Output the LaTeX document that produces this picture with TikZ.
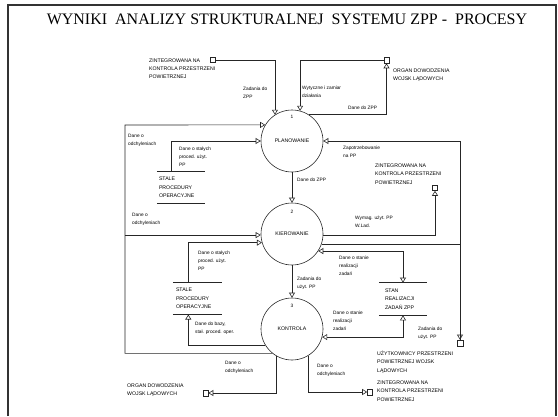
\documentclass[tikz,border=0pt]{standalone}
\usepackage{fontspec}
\setmainfont{Liberation Sans}
\newfontfamily\titlefont{Liberation Serif}
\usetikzlibrary{arrows.meta,calc}

\newcommand{\lblfont}{\fontsize{4.8}{8}\selectfont}
\newcommand{\entfont}{\fontsize{5.2}{8.3}\selectfont}
\newcommand{\procfont}{\fontsize{5.2}{6}\selectfont}

\tikzset{
  flow/.style={draw=black!85, line width=0.6pt},
  arr/.style={-{Triangle[open,length=5pt,width=6pt]}},
  arrboth/.style={{Triangle[open,length=5pt,width=6pt]}-{Triangle[open,length=5pt,width=6pt]}},
  proc/.style={circle, draw=black!85, line width=0.6pt, minimum size=62pt, inner sep=0pt, font=\procfont},
  lbl/.style={font=\lblfont, align=left, anchor=west, inner sep=0pt},
  ent/.style={font=\entfont, align=left, anchor=west, inner sep=0pt},
  num/.style={font=\lblfont, inner sep=0pt},
  storebox/.style={inner sep=0pt, minimum width=48pt, minimum height=31.6pt},
  storeedge/.style={draw=black!85, line width=0.6pt},
  termbox/.style={draw=black!85, line width=0.6pt, minimum width=5pt, minimum height=5pt, inner sep=0pt},
  frame/.style={draw=black!80, line width=1.5pt}
}

\begin{document}
\begin{tikzpicture}[x=1pt,y=-1pt]
\useasboundingbox (0,0) rectangle (558,416);

% outer frame
\draw[frame] (8,416) -- (8,5) -- (556,5) -- (556,416);

% title
\node[font=\titlefont\fontsize{16}{18}\selectfont, inner sep=0pt] (title) at (287,19)
  {WYNIKI\ \ ANALIZY STRUKTURALNEJ\ \ SYSTEMU ZPP -\ \ PROCESY};

% processes
\node[proc] (p1) at (292,141) {PLANOWANIE};
\node[proc] (p2) at (292,234) {KIEROWANIE};
\node[proc] (p3) at (292,329) {KONTROLA};
\node[num] (n1) at (292,117) {1};
\node[num] (n2) at (292,212) {2};
\node[num] (n3) at (292,306) {3};

% data stores
\node[storebox] (s1) at (181,187.5) {};
\node[storebox, minimum width=49pt] (s2) at (197.5,298.5) {};
\node[storebox, minimum height=32.3pt] (s3) at (403,299) {};
\foreach \s in {s1,s2,s3}
  \draw[storeedge] (\s.north west) -- (\s.north east) (\s.south west) -- (\s.south east);
\node[ent] (s1t) at ([xshift=2pt]s1.west) {STALE\\PROCEDURY\\OPERACYJNE};
\node[ent] (s2t) at ([xshift=3pt]s2.west) {STALE\\PROCEDURY\\OPERACYJNE};
\node[ent] (s3t) at ([xshift=6pt]s3.west) {STAN\\REALIZACJI\\ZADAŃ ZPP};

% external entities
\node[termbox] (tzt) at (213,60) {};
\node[termbox, minimum height=6pt] (t1) at (386.5,60) {};
\node[termbox] (tz2) at (435,188) {};
\node[termbox, minimum width=6pt, minimum height=6pt] (tu) at (460,343) {};
\node[termbox, minimum height=6pt] (to2) at (205.5,393) {};
\node[termbox, minimum height=6pt] (tz3) at (370,392) {};

\node[ent] (tztl) at (149,68.7) {ZINTEGROWANA NA\\KONTROLA PRZESTRZENI\\POWIETRZNEJ};
\node[ent] (t1l) at (393,75) {ORGAN DOWODZENIA\\WOJSK LĄDOWYCH};
\node[ent] (tz2l) at (375,174) {ZINTEGROWANA NA\\KONTROLA PRZESTRZENI\\POWIETRZNEJ};
\node[ent] (tul) at (377,362) {UŻYTKOWNICY PRZESTRZENI\\POWIETRZNEJ WOJSK\\LĄDOWYCH};
\node[ent] (to2l) at (127,390) {ORGAN DOWODZENIA\\WOJSK LĄDOWYCH};
\node[ent] (tz3l) at (377,391) {ZINTEGROWANA NA\\KONTROLA PRZESTRZENI\\POWIETRZNEJ};

% flows around PLANOWANIE
\draw[flow,arr] (tzt.east) -| (p1.123);
\draw[flow,arr] (t1.west) -| (p1.75);
\draw[flow,arr] (p1.57) -| (t1.south);
\draw[flow,arr] (tu.north) |- (p1.east);
\draw[flow,arr] ([xshift=-9.3pt]s1.north) |- (p1.west);
\draw[flow,arr] (p1.south) -- (p2.north);

% flows around KIEROWANIE
\draw[flow,arr] (p2.-19) -| (tu.north);
\draw[flow,arr] (p2.-2) -| (tz2.south);
\draw[flow,arrboth] (p2.-33) -| (s3.north);
\draw[flow,arr] ([xshift=-9.2pt]s2.north) |- (p2.196);
\draw[flow,arr] (p2.south) -- (p3.north);

% flows around KONTROLA
\coordinate (lt) at (125,125);
\draw[flow,arr] (p3.231) -| (lt) -- (p1.149);
\draw[flow,arr] (lt |- p2.182) -- (p2.182);
\draw[flow,arrboth] (s3.south) |- (p3.-15);
\draw[flow,arr] (p3.211) -| ([xshift=-9.2pt]s2.south);
\draw[flow,arr] (p3.240) |- (to2.east);
\draw[flow,arr] (p3.-58) |- (tz3.west);

% flow labels
\node[lbl] at (243,92.5) {Zadania do\\ZPP};
\node[lbl] at (302,92) {Wytyczne i zamiar\\działania};
\node[lbl] at (348,108) {Dane do ZPP};
\node[lbl] at (128,140) {Dane o\\odchyleniach};
\node[lbl] at (179,157) {Dane o stałych\\proced. użyt.\\PP};
\node[lbl] at (297,180) {Dane do ZPP};
\node[lbl] at (343,152) {Zapotrzebowanie\\na PP};
\node[lbl] at (355,222) {Wymag. użyt. PP\\W.Lad.};
\node[lbl] at (132,219) {Dane o\\odchyleniach};
\node[lbl] at (198,261) {Dane o stałych\\proced. użyt.\\PP};
\node[lbl] at (339,266) {Dane o stanie\\realizacji\\zadań};
\node[lbl] at (297,283) {Zadania do\\użyt. PP};
\node[lbl] at (333,321) {Dane o stanie\\realizacji\\zadań};
\node[lbl] at (418,333) {Zadania do\\użyt. PP};
\node[lbl] at (195,328) {Dane do bazy,\\stał. proced. oper.};
\node[lbl] at (225,367) {Dane o\\odchyleniach};
\node[lbl] at (317,370) {Dane o\\odchyleniach};
\end{tikzpicture}
\end{document}
